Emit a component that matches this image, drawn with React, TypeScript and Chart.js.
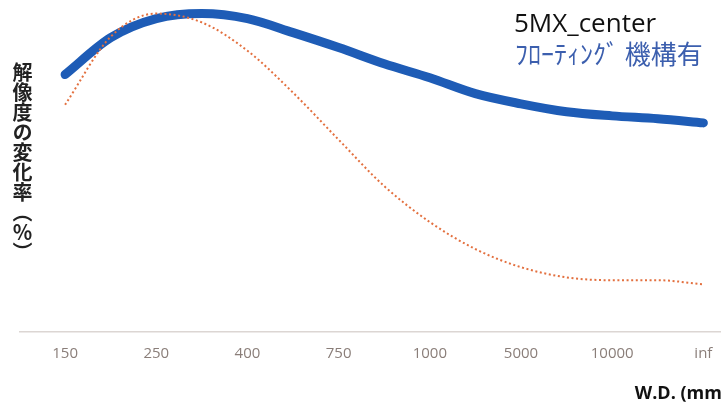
import { useEffect, useRef } from "react";
import { Chart, registerables } from "chart.js";

Chart.register(...registerables);

// W.D. (mm) categories along the x axis
const categories = ["150", "250", "400", "750", "1000", "5000", "10000", "inf"];
// sample positions (category index, half steps) at which the curves were read
const samplePositions = [0, 0.5, 1, 1.5, 2, 2.5, 3, 3.5, 4, 4.5, 5, 5.5, 6, 6.5, 7];
// resolution change rate (%) — with floating mechanism (blue)
const floatingValues = [80.8, 92.4, 98.4, 100, 98.4, 94.0, 89.3, 84.2, 79.8, 74.8, 71.6, 69.1, 67.8, 66.9, 65.6];
// resolution change rate (%) — without floating mechanism (orange dotted)
const fixedValues = [71.3, 92.7, 100, 97.2, 88.3, 75.1, 60.3, 45.7, 34.4, 25.9, 20.2, 17.0, 16.1, 16.1, 14.8];

const seriesTitle = "5MX_center";
const seriesSubtitle = "ﾌﾛｰﾃｨﾝｸﾞ 機構有";
const yAxisLabel = "解像度の変化率（％）";
const xAxisLabel = "W.D. (mm)";

export default function App() {
  const ref = useRef<HTMLCanvasElement>(null);

  useEffect(() => {
    const canvas = ref.current;
    if (!canvas) return;
    const chart = new Chart(canvas, {
      type: "line",
      data: {
        datasets: [
          {
            data: samplePositions.map((x, i) => ({ x, y: fixedValues[i] })),
            borderColor: "#e3703f",
            borderWidth: 2,
            borderDash: [2, 2.6],
            pointRadius: 0,
            cubicInterpolationMode: "monotone",
            fill: false,
            clip: false as any,
          },
          {
            data: samplePositions.map((x, i) => ({ x, y: floatingValues[i] })),
            borderColor: "#1e5cb6",
            borderWidth: 9,
            borderCapStyle: "round",
            borderJoinStyle: "round",
            pointRadius: 0,
            cubicInterpolationMode: "monotone",
            fill: false,
            clip: false as any,
          },
        ],
      },
      options: {
        animation: false,
        responsive: false,
        devicePixelRatio: 1,
        layout: { padding: { top: 4, left: 19.5, right: 0, bottom: 0 } },
        plugins: {
          legend: { display: false },
          tooltip: { enabled: false },
        },
        scales: {
          x: {
            type: "linear",
            min: -0.5,
            max: 7.27,
            afterBuildTicks: (scale: any) => {
              scale.ticks = categories.map((_, i) => ({ value: i }));
            },
            ticks: {
              callback: (v: any) => categories[Number(v)] ?? "",
              color: "#8a7e79",
              font: { family: "'Open Sans'", size: 15 },
              padding: 13,
              autoSkip: false,
              maxRotation: 0,
            },
            grid: { display: false, drawTicks: false },
            border: { display: true, color: "#dcd6d3", width: 1.5 },
            title: {
              display: true,
              text: xAxisLabel,
              align: "end",
              color: "#111",
              font: { family: "'Open Sans'", size: 18, weight: "bold" },
              padding: { top: 8, bottom: -3 },
            },
          },
          y: {
            display: false,
            min: 0,
            max: 103,
          },
        },
      },
    });
    return () => chart.destroy();
  }, []);

  return (
    <div
      style={{
        position: "fixed",
        left: 0,
        top: 0,
        width: 721,
        height: 402,
        overflow: "hidden",
        background: "#fff",
      }}
    >
      <canvas ref={ref} width={728} height={402} style={{ position: "absolute", left: 0, top: 0 }} />
      <div
        style={{
          position: "absolute",
          left: 514,
          top: 9,
          fontFamily: "'Open Sans'",
          fontSize: 26,
          lineHeight: "26px",
          color: "#111",
          whiteSpace: "nowrap",
        }}
      >
        {seriesTitle}
      </div>
      <div
        style={{
          position: "absolute",
          left: 515,
          top: 40,
          fontFamily: "'Noto Sans CJK JP'",
          fontSize: 26,
          lineHeight: "26px",
          color: "#3c5fae",
          whiteSpace: "nowrap",
        }}
      >
        {seriesSubtitle}
      </div>
      <div
        style={{
          position: "absolute",
          left: 12,
          top: 62,
          writingMode: "vertical-rl",
          fontFamily: "'Noto Sans CJK JP'",
          fontWeight: "bold",
          fontSize: 20,
          lineHeight: "20px",
          color: "#222",
          whiteSpace: "nowrap",
        }}
      >
        {yAxisLabel}
      </div>
    </div>
  );
}
